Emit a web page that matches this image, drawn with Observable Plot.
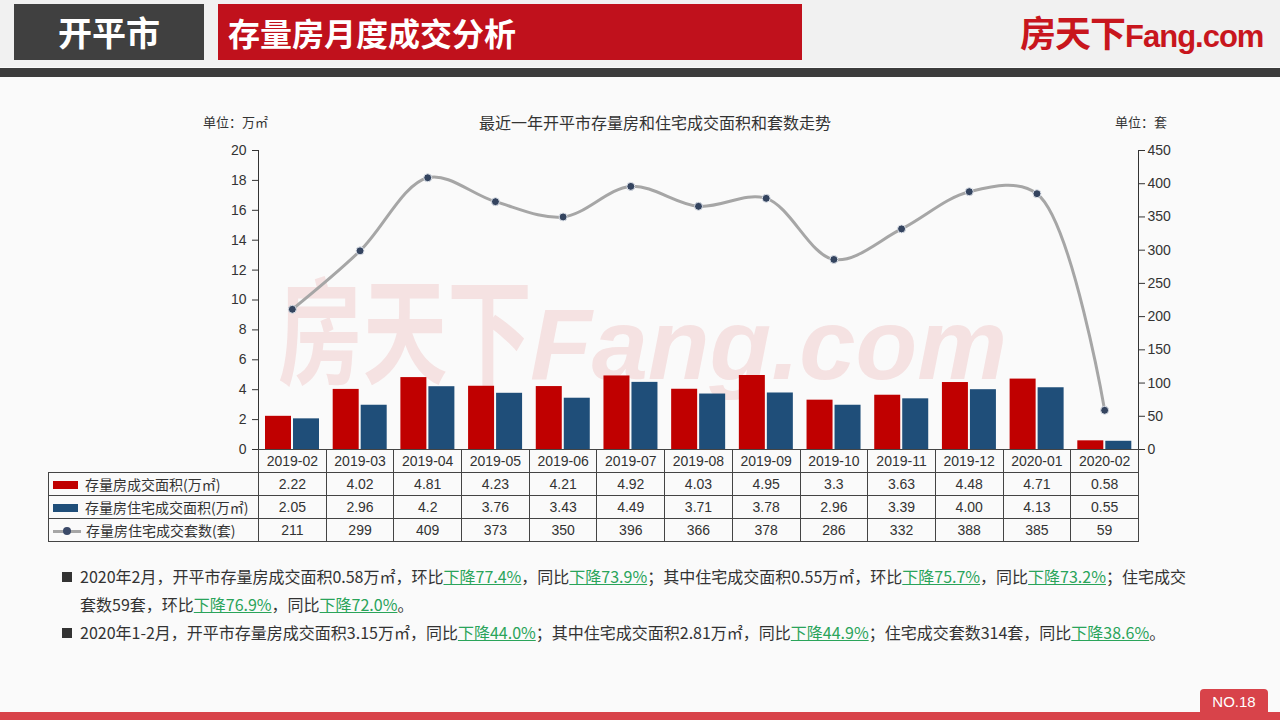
<!DOCTYPE html>
<html><head><meta charset="utf-8">
<script src="https://cdn.jsdelivr.net/npm/d3@7"></script>
<script src="https://cdn.jsdelivr.net/npm/@observablehq/plot@0.6"></script>
<style>
html,body{margin:0;padding:0;}
body{width:1280px;height:720px;overflow:hidden;background:#fafafa;font-family:"Noto Sans CJK SC","Liberation Sans",sans-serif;position:relative;color:#333;}
.abs{position:absolute;}
#topbg{left:0;top:0;width:1280px;height:67px;background:#f1f1f1;}
#topline{left:0;top:68px;width:1280px;height:9px;background:#3b3b3b;}
#city{left:14px;top:4px;width:190px;height:56px;background:#404040;color:#fff;font-weight:bold;font-size:34px;line-height:56px;text-align:center;}
#ttl{left:218px;top:4px;width:584px;height:56px;background:#c0111c;color:#fff;font-weight:bold;font-size:32px;line-height:56px;padding-left:10px;box-sizing:border-box;}
#logo{left:1020px;top:8px;height:46px;color:#c8161d;font-weight:bold;white-space:nowrap;}
#logo .cn{font-size:36px;line-height:46px;letter-spacing:-1px;}
#logo .en{font-family:"Liberation Sans",sans-serif;font-size:31px;letter-spacing:-1px;}
#wm{left:278px;top:240px;white-space:nowrap;color:rgba(214,70,70,0.13);font-weight:bold;}
#wm .cn{font-size:116px;display:inline-block;transform:scaleX(0.73);transform-origin:left;margin-right:-96px;}
#wm .en{font-family:"Liberation Sans",sans-serif;font-style:italic;font-size:101px;position:relative;top:4px;}
#unitL{left:203px;top:112px;font-size:13px;}
#unitR{left:1115px;top:112px;font-size:13px;}
#ctitle{left:355px;width:600px;top:110px;font-size:16px;text-align:center;}
#chart{left:0;top:135px;}
#tbl{left:48px;top:449px;border-collapse:collapse;table-layout:fixed;font-family:"Liberation Sans","Noto Sans CJK SC",sans-serif;font-size:14px;color:#333;}
#tbl td{border:1px solid #444;height:22px;padding:0;text-align:center;white-space:nowrap;}
#tbl td.lab{text-align:left;padding-left:4px;font-family:"Noto Sans CJK SC",sans-serif;}
#tbl td.blank{border:none;}
.sw{display:inline-block;width:25px;height:8px;vertical-align:middle;margin-right:7px;margin-top:-2px;}
.lg{display:inline-block;width:28px;height:10px;vertical-align:middle;margin-right:5px;position:relative;margin-top:-2px;}
.lg i{position:absolute;left:0;top:4px;width:28px;height:3px;background:#a6a6a6;}
.lg b{position:absolute;left:10px;top:1px;width:8px;height:8px;border-radius:50%;background:#3b4a68;}
#notes{left:62px;top:562px;font-size:16px;line-height:28px;color:#333;}
#notes .b{display:inline-block;width:10px;height:10px;background:#333;margin-right:8px;vertical-align:middle;margin-top:-3px;}
#notes .g{color:#2aa45a;text-decoration:underline;}
#notes .ind{padding-left:18px;}
#foot{left:0;top:712px;width:1280px;height:8px;background:#d8434a;}
#no{left:1200px;top:689px;width:68px;height:24px;background:#d8434a;border-radius:4px 4px 0 0;color:#fff;font-family:"Liberation Sans",sans-serif;font-size:15px;line-height:25px;text-align:center;}
</style></head><body>
<div id="topbg" class="abs"></div>
<div id="topline" class="abs"></div>
<div id="city" class="abs">开平市</div>
<div id="ttl" class="abs">存量房月度成交分析</div>
<div id="logo" class="abs"><span class="cn">房天下</span><span class="en">Fang.com</span></div>
<div id="wm" class="abs"><span class="cn">房天下</span><span class="en">Fang.com</span></div>
<div id="unitL" class="abs">单位：万㎡</div>
<div id="ctitle" class="abs">最近一年开平市存量房和住宅成交面积和套数走势</div>
<div id="unitR" class="abs">单位：套</div>
<div id="chart" class="abs"></div>
<table id="tbl" class="abs"></table>
<div id="notes" class="abs">
<div><span class="b"></span>2020年2月，开平市存量房成交面积0.58万㎡，环比<span class="g">下降77.4%</span>，同比<span class="g">下降73.9%</span>；其中住宅成交面积0.55万㎡，环比<span class="g">下降75.7%</span>，同比<span class="g">下降73.2%</span>；住宅成交</div>
<div class="ind">套数59套，环比<span class="g">下降76.9%</span>，同比<span class="g">下降72.0%</span>。</div>
<div><span class="b"></span>2020年1-2月，开平市存量房成交面积3.15万㎡，同比<span class="g">下降44.0%</span>；其中住宅成交面积2.81万㎡，同比<span class="g">下降44.9%</span>；住宅成交套数314套，同比<span class="g">下降38.6%</span>。</div>
</div>
<div id="foot" class="abs"></div>
<div id="no" class="abs">NO.18</div>
<script>
const months = ["2019-02","2019-03","2019-04","2019-05","2019-06","2019-07","2019-08","2019-09","2019-10","2019-11","2019-12","2020-01","2020-02"];
const areaTotal = [2.22,4.02,4.81,4.23,4.21,4.92,4.03,4.95,3.3,3.63,4.48,4.71,0.58];
const areaTotalLabels = ["2.22","4.02","4.81","4.23","4.21","4.92","4.03","4.95","3.3","3.63","4.48","4.71","0.58"];
const areaRes = [2.05,2.96,4.2,3.76,3.43,4.49,3.71,3.78,2.96,3.39,4.00,4.13,0.55];
const areaResLabels = ["2.05","2.96","4.2","3.76","3.43","4.49","3.71","3.78","2.96","3.39","4.00","4.13","0.55"];
const counts = [211,299,409,373,350,396,366,378,286,332,388,385,59];
const leftTicks = [0,2,4,6,8,10,12,14,16,18,20];
const rightTicks = [0,50,100,150,200,250,300,350,400,450];
const seriesNames = ["存量房成交面积(万㎡)","存量房住宅成交面积(万㎡)","存量房住宅成交套数(套)"];

const leftMax = 20, rightMax = 450;
const toLeft = v => v * leftMax / rightMax;
const rows = months.map((m,i)=>({month:m, total:areaTotal[i], res:areaRes[i], count:counts[i]}));
const bw = 880/13;
const font = '"Liberation Sans","Noto Sans CJK SC",sans-serif';

const chart = Plot.plot({
  width:1280, height:316, marginLeft:258, marginRight:142, marginTop:15, marginBottom:2,
  style:{background:"transparent", fontSize:"14px", fontFamily:font, color:"#333", overflow:"visible"},
  x:{type:"band", domain:months, padding:0, round:false, axis:null},
  y:{domain:[0,leftMax], axis:null},
  marks:[
    Plot.barY(rows, {x:"month", y:"total", fill:"#c00000", insetLeft:7, insetRight:bw-33}),
    Plot.barY(rows, {x:"month", y:"res", fill:"#1f4e79", insetLeft:35, insetRight:bw-61}),
    Plot.line(rows, {x:"month", y:d=>toLeft(d.count), curve:"catmull-rom", stroke:"#a6a6a6", strokeWidth:3}),
    Plot.dot(rows, {x:"month", y:d=>toLeft(d.count), r:4, fill:"#34445f", stroke:"#dfe3ea", strokeWidth:1}),
    Plot.axisY(leftTicks, {anchor:"left", tickSize:6, tickPadding:6, label:null, stroke:"#333", fill:"#333", fontSize:14}),
    Plot.axisY(rightTicks.map(toLeft), {anchor:"right", tickSize:6, tickPadding:3, label:null, stroke:"#333", fill:"#333", fontSize:14, tickFormat:d=>String(Math.round(d*rightMax/leftMax))}),
    Plot.ruleY([0], {stroke:"#333"}),
    Plot.ruleX([months[0]], {y1:0, y2:leftMax, dx:-bw/2, stroke:"#333"}),
    Plot.ruleX([months[months.length-1]], {y1:0, y2:leftMax, dx:bw/2, stroke:"#333"})
  ]
});
document.getElementById("chart").appendChild(chart);

// table
const tbl = document.getElementById("tbl");
const cg = document.createElement("colgroup");
cg.innerHTML = `<col style="width:210px">` + months.map(()=>`<col style="width:${bw}px">`).join("");
tbl.appendChild(cg);
const tb = document.createElement("tbody");
let html = `<tr><td class="blank"></td>${months.map(m=>`<td>${m}</td>`).join("")}</tr>`;
html += `<tr><td class="lab"><span class="sw" style="background:#c00000"></span>${seriesNames[0]}</td>${areaTotalLabels.map(v=>`<td>${v}</td>`).join("")}</tr>`;
html += `<tr><td class="lab"><span class="sw" style="background:#1f4e79"></span>${seriesNames[1]}</td>${areaResLabels.map(v=>`<td>${v}</td>`).join("")}</tr>`;
html += `<tr><td class="lab"><span class="lg"><i></i><b></b></span>${seriesNames[2]}</td>${counts.map(v=>`<td>${v}</td>`).join("")}</tr>`;
tb.innerHTML = html;
tbl.appendChild(tb);
</script>
</body></html>
